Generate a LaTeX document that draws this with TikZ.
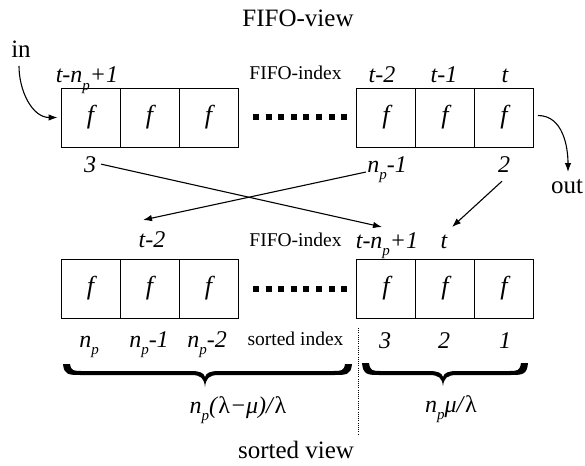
\documentclass[tikz,border=0pt]{standalone}
\usepackage{fontspec}
\setmainfont{Liberation Serif}[
  UprightFont={Liberation Serif},
  ItalicFont={Liberation Serif Italic},
  BoldFont={Liberation Serif Bold}]
\usepackage{graphicx}
\usetikzlibrary{arrows.meta}

% lowered small "p" used as an index
\newcommand\sbp{\raisebox{-0.3em}{\fontsize{15}{15}\selectfont p}}

% filled curly brace opening upward: x0, x1, x of tip, y of ends, y of body, y of tip
\newcommand\drawbrace[6]{%
  \fill (#1,#4) .. controls ({#1+1},{#5+2}) and ({#1+6},{#5+2}) .. ({#1+18},{#5+2})
    -- ({#3-14},{#5+2}) .. controls ({#3-4},{#5+2}) and ({#3-1},{#5+5}) .. (#3,#6)
    .. controls ({#3+1},{#5+5}) and ({#3+4},{#5+2}) .. ({#3+14},{#5+2})
    -- ({#2-18},{#5+2}) .. controls ({#2-6},{#5+2}) and ({#2-1},{#5+2}) .. (#2,#4)
    -- ({#2-7},#4) .. controls ({#2-8},{#5-2}) and ({#2-11},{#5-2}) .. ({#2-19},{#5-2})
    -- ({#3+14},{#5-2}) .. controls ({#3+5},{#5-2}) and ({#3+1},{#5}) .. (#3,{#5+4})
    .. controls ({#3-1},{#5}) and ({#3-5},{#5-2}) .. ({#3-14},{#5-2})
    -- ({#1+19},{#5-2}) .. controls ({#1+11},{#5-2}) and ({#1+8},{#5-2}) .. ({#1+7},#4)
    -- cycle;}

\begin{document}
\begin{tikzpicture}[x=1pt,y=-1pt,
  cell/.style={draw,line width=0.9pt,minimum size=59pt,inner sep=0pt,
    font=\fontsize{26}{30}\selectfont\itshape},
  lab/.style={anchor=base,inner sep=1pt,font=\fontsize{24}{28}\selectfont\itshape},
  small/.style={anchor=base,inner sep=1pt,font=\fontsize{19.5}{22}\selectfont},
  big/.style={anchor=base,inner sep=1pt,font=\fontsize{25}{30}\selectfont},
  arr/.style={-{Latex[length=9pt,width=6.5pt]},line width=1.1pt},
  dots/.style={line width=6pt,dash pattern=on 6pt off 6.6pt},
  sep/.style={line width=0.9pt,dash pattern=on 1pt off 1.2pt},
]
\useasboundingbox (0,0) rectangle (585,465);

% titles
\node[big] (ftitle) at (298,27) {FIFO-view};
\node[big] (stitle) at (296,458) {sorted view};

% FIFO row
\node[cell] (t1) at (90.5,117.5) {f};
\node[cell] (t2) at (149.5,117.5) {f};
\node[cell] (t3) at (208.5,117.5) {f};
\node[cell] (t4) at (386,117.5) {f};
\node[cell] (t5) at (445,117.5) {f};
\node[cell] (t6) at (504,117.5) {f};
\draw[dots] (253,117.5) -- (347,117.5);

% sorted row
\node[cell] (b1) at (90.5,288.5) {f};
\node[cell] (b2) at (149.5,288.5) {f};
\node[cell] (b3) at (208.5,288.5) {f};
\node[cell] (b4) at (386,288.5) {f};
\node[cell] (b5) at (445,288.5) {f};
\node[cell] (b6) at (504,288.5) {f};
\draw[dots] (253,288.5) -- (347,288.5);

% FIFO row indices
\node[lab] (ta1) at (87,83) {t-n\sbp+1};
\node[small] (tfi) at (295.5,80) {FIFO-index};
\node[lab] (ta4) at (382,83) {t-2};
\node[lab] (ta5) at (444,83) {t-1};
\node[lab] (ta6) at (505,83) {t};
\node[lab] (tb1) at (90,172) {3};
\node[lab] (tb4) at (387,172) {n\sbp-1};
\node[lab] (tb6) at (504,172) {2};

% sorted row indices
\node[lab] (ba2) at (152,247) {t-2};
\node[small] (bfi) at (295.5,246) {FIFO-index};
\node[lab] (ba4) at (387,248) {t-n\sbp+1};
\node[lab] (ba5) at (444,248) {t};
\node[lab] (bb1) at (89,347) {n\sbp};
\node[lab] (bb2) at (149,347) {n\sbp-1};
\node[lab] (bb3) at (207,347) {n\sbp-2};
\node[small] (bsi) at (295.5,345) {sorted index};
\node[lab] (bb4) at (385,348) {3};
\node[lab] (bb5) at (444,348) {2};
\node[lab] (bb6) at (505,348) {1};

% input / output
\node[big] (in) at (21,58) {in};
\node[big] (out) at (567,193) {out};
\coordinate (inStart) at (19,66);
\coordinate (outEnd) at (568,172);
\draw[arr] (inStart) to[out=-90,in=180] ([xshift=-3pt]t1.west);
\draw[arr] ([shift={(4pt,2pt)}]t6.east) to[out=0,in=90] (outEnd);

% mapping from FIFO positions to sorted positions
\coordinate (e1) at (382,227);
\coordinate (e2) at (143,220);
\coordinate (e3) at (452,227);
\draw[arr] ([xshift=4pt]tb1.east) -- (e1);
\draw[arr] (tb4.base west) -- (e2);
\draw[arr] ([shift={(-2pt,-8pt)}]tb6.south) -- (e3);

% split of the sorted view
\coordinate (sTop) at (358,328);
\coordinate (sBot) at (358,435);
\draw[sep] (sTop) -- (sBot);
\drawbrace{63}{352}{205}{364}{373}{387}
\drawbrace{362}{528}{443}{363}{373}{386}
\node[lab] (fl) at (238,413) {n\sbp(\textup{λ}−μ)/\textup{λ}};
\node[lab] (fr) at (451,412) {n\sbp μ/\textup{λ}};
\end{tikzpicture}
\end{document}
